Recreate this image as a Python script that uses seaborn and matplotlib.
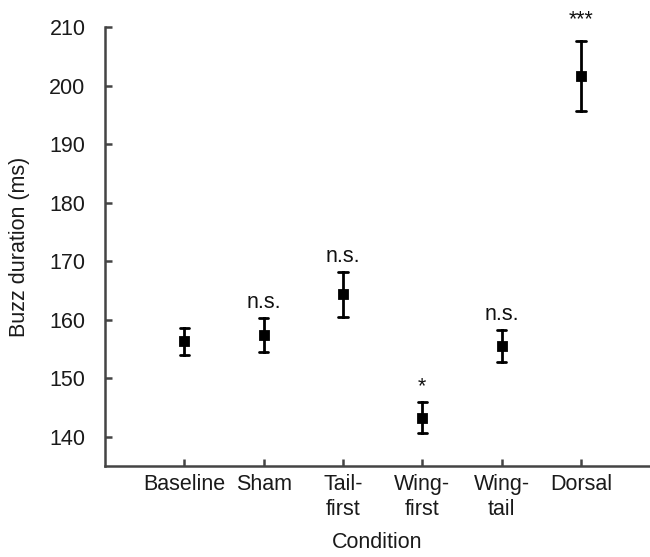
import matplotlib
matplotlib.use("Agg")
import matplotlib.pyplot as plt
import seaborn as sns
import pandas as pd

# Buzz duration per condition: mean with lower / upper error bounds (ms)
conditions = ["Baseline", "Sham", "Tail-\nfirst", "Wing-\nfirst", "Wing-\ntail", "Dorsal"]
mean_ms = [156.3, 157.3, 164.3, 143.2, 155.5, 201.6]
lower_ms = [154.0, 154.4, 160.5, 140.6, 152.7, 195.6]
upper_ms = [158.6, 160.2, 168.1, 145.9, 158.2, 207.6]
significance = ["", "n.s.", "n.s.", "*", "n.s.", "***"]

# Long-form table: median of (lower, mean, upper) is the mean, full range is the error bar
rows = []
for c, lo, m, hi in zip(conditions, lower_ms, mean_ms, upper_ms):
    for v in (lo, m, hi):
        rows.append({"Condition": c, "Buzz duration (ms)": v})
df = pd.DataFrame(rows)

sns.set_theme(style="ticks")
plt.rcParams["font.family"] = ["Liberation Sans", "DejaVu Sans"]

FS = 15.5
fig = plt.figure(figsize=(6.5, 5.57), dpi=100)
ax = fig.add_axes([0.1615, 0.1634, 1.0 - 0.1615, 0.9515 - 0.1634])

sns.pointplot(
    data=df, x="Condition", y="Buzz duration (ms)", order=conditions,
    estimator="median", errorbar=("pi", 100),
    linestyle="none", marker="s", markersize=5.5, color="black",
    capsize=0.12, err_kws={"linewidth": 2.0}, ax=ax,
)

for i, (lab, hi) in enumerate(zip(significance, upper_ms)):
    if lab:
        off = 1.9 if lab == "***" else 0.9
        ax.text(i, hi + off, lab, ha="center", va="bottom", fontsize=FS,
                color="#111111", clip_on=False)

ax.set_ylim(135, 210)
ax.set_yticks(range(140, 211, 10))
ax.set_xlim(-1, 5.87)

for side in ("top", "right"):
    ax.spines[side].set_visible(False)
for side in ("left", "bottom"):
    ax.spines[side].set_color("#444444")
    ax.spines[side].set_linewidth(1.8)

ax.tick_params(axis="both", direction="in", length=5, width=1.8, color="#444444",
               labelsize=FS, labelcolor="#1a1a1a")
ax.tick_params(axis="y", pad=14)
ax.tick_params(axis="x", pad=6)

ax.set_xlabel("Condition", fontsize=FS, color="#1a1a1a", labelpad=9)
ax.set_ylabel("Buzz duration (ms)", fontsize=FS, color="#1a1a1a", labelpad=14)

fig.savefig("out.png", dpi=100)
